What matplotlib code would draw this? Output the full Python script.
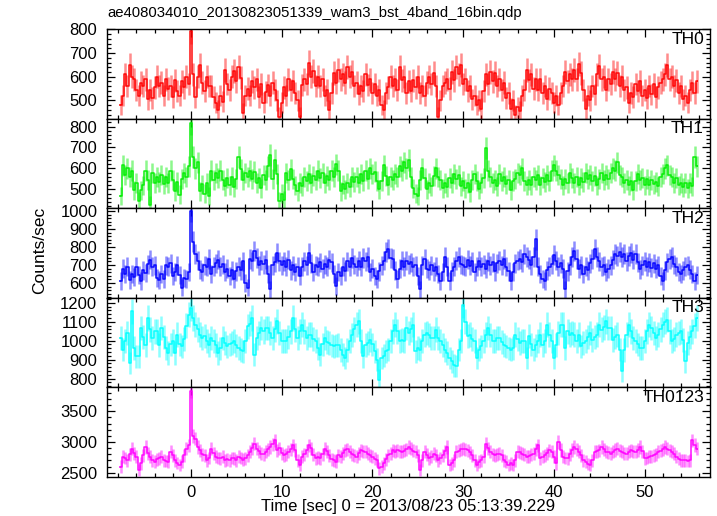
import numpy as np
import matplotlib
matplotlib.use("Agg")
import matplotlib.pyplot as plt
from matplotlib.ticker import MultipleLocator

plt.rcParams['font.family'] = ['Liberation Sans', 'DejaVu Sans']

# ---------------- data ----------------
title = "ae408034010_20130823051339_wam3_bst_4band_16bin.qdp"
xlabel = "Time [sec] 0 = 2013/08/23 05:13:39.229"
ylabel = "Counts/sec"
t_first = -7.75      # centre of first bin [s]
bin_width = 0.25     # [s]

panel_names = ["TH0", "TH1", "TH2", "TH3", "TH0123"]

th0 = [
    480, 520, 610, 560, 650, 600, 590, 545,
    520, 575, 560, 590, 505, 545, 510, 555,
    600, 560, 575, 520, 590, 550, 560, 515,
    585, 540, 520, 580, 555, 600, 570, 795,
    610, 515, 600, 650, 575, 540, 600, 560,
    560, 515, 490, 460, 520, 495, 630, 570,
    545, 600, 625, 580, 640, 595, 445, 520,
    550, 520, 580, 555, 590, 515, 570, 490,
    535, 565, 520, 575, 545, 500, 430, 490,
    555, 520, 590, 545, 580, 530, 500, 430,
    565, 590, 570, 660, 600, 625, 560, 600,
    560, 590, 520, 545, 460, 530, 615, 575,
    630, 590, 610, 575, 640, 600, 620, 560,
    575, 525, 560, 540, 610, 565, 590, 530,
    570, 520, 545, 480, 460, 530, 555, 600,
    560, 590, 545, 640, 585, 600, 530, 580,
    540, 585, 555, 600, 530, 560, 520, 575,
    600, 570, 615, 560, 430, 500, 560, 575,
    590, 550, 620, 585, 640, 610, 650, 570,
    590, 540, 560, 505, 520, 480, 500, 465,
    540, 610, 570, 620, 580, 615, 560, 590,
    545, 575, 510, 530, 465, 500, 440, 470,
    455, 520, 545, 630, 585, 610, 550, 590,
    545, 590, 530, 560, 505, 550, 530, 490,
    520, 480, 530, 560, 620, 580, 610, 590,
    630, 590, 655, 615, 545, 465, 520, 500,
    560, 525, 610, 645, 590, 600, 545, 590,
    570, 620, 590, 615, 560, 600, 545, 555,
    490, 530, 515, 570, 540, 580, 520, 545,
    510, 560, 525, 570, 515, 555, 575, 590,
    610, 650, 590, 600, 560, 585, 530, 560,
    505, 520, 490, 545, 575, 530, 580,
]

th1 = [
    467, 615, 570, 600, 560, 590, 495, 530,
    445, 495, 520, 590, 545, 427, 580, 530,
    560, 535, 570, 525, 560, 530, 590, 545,
    490, 535, 475, 550, 580, 560, 610, 815,
    655, 600, 630, 490, 525, 480, 530, 470,
    590, 545, 580, 555, 590, 545, 515, 555,
    520, 560, 510, 550, 655, 595, 545, 580,
    560, 590, 550, 585, 530, 555, 505, 570,
    545, 610, 665, 550, 640, 575, 443, 480,
    450, 580, 545, 595, 550, 520, 490, 530,
    515, 560, 540, 575, 530, 565, 545, 590,
    555, 580, 530, 565, 545, 590, 560, 620,
    590, 490, 525, 500, 530, 510, 560, 535,
    560, 530, 575, 540, 590, 550, 600, 575,
    585, 540, 500, 540, 615, 565, 520, 560,
    545, 575, 560, 610, 590, 630, 600, 640,
    560, 505, 480, 470, 545, 600, 555, 500,
    530, 515, 565, 600, 560, 545, 505, 530,
    510, 555, 530, 575, 550, 570, 515, 540,
    505, 530, 485, 545, 575, 540, 500, 530,
    555, 697, 590, 560, 530, 545, 515, 575,
    540, 560, 525, 545, 495, 540, 550, 580,
    570, 600, 540, 520, 545, 520, 560, 545,
    570, 520, 555, 535, 570, 540, 590, 615,
    590, 570, 550, 520, 550, 530, 580, 555,
    530, 560, 520, 555, 535, 580, 550, 570,
    540, 565, 520, 550, 580, 545, 570, 550,
    580, 600, 590, 630, 570, 560, 530, 545,
    520, 540, 495, 540, 575, 545, 555, 520,
    550, 520, 545, 525, 535, 515, 560, 575,
    600, 615, 570, 560, 530, 555, 520, 530,
    510, 530, 505, 530, 515, 655, 610,
]

th2 = [
    611, 680, 650, 690, 615, 650, 635, 690,
    645, 610, 670, 655, 705, 730, 690, 700,
    630, 615, 650, 625, 700, 690, 710, 640,
    660, 700, 645, 574, 630, 620, 660, 1000,
    830, 760, 725, 675, 660, 700, 690, 735,
    650, 690, 710, 730, 690, 705, 660, 680,
    640, 670, 625, 665, 690, 670, 720, 600,
    574, 735, 720, 780, 740, 700, 725, 705,
    730, 650, 565, 700, 715, 765, 720, 700,
    720, 690, 730, 670, 700, 660, 690, 640,
    690, 720, 700, 765, 710, 660, 700, 690,
    715, 680, 705, 690, 730, 715, 650, 583,
    660, 640, 690, 665, 720, 690, 740, 705,
    690, 725, 690, 740, 720, 745, 660, 680,
    640, 620, 665, 700, 725, 770, 787, 740,
    735, 670, 620, 680, 725, 690, 725, 705,
    715, 690, 700, 640, 565, 700, 735, 680,
    670, 700, 665, 690, 650, 611, 660, 745,
    690, 611, 665, 690, 725, 745, 705, 700,
    690, 730, 695, 720, 660, 690, 725, 690,
    705, 680, 720, 700, 715, 665, 710, 725,
    700, 735, 690, 665, 611, 660, 710, 725,
    735, 715, 760, 745, 730, 700, 745, 843,
    690, 650, 625, 611, 670, 690, 705, 755,
    725, 690, 710, 680, 565, 665, 700, 745,
    778, 735, 680, 700, 650, 690, 670, 710,
    735, 787, 745, 720, 690, 700, 660, 680,
    700, 730, 760, 750, 770, 745, 760, 720,
    750, 765, 730, 760, 715, 676, 700, 720,
    690, 715, 685, 710, 680, 700, 640, 611,
    670, 715, 735, 745, 705, 690, 660, 650,
    670, 690, 700, 675, 650, 611, 645,
]

th3 = [
    1014, 953, 1000, 1040, 882, 1154, 961, 918,
    918, 1067, 1020, 979, 1119, 1060, 1014, 1049,
    1049, 979, 1067, 1020, 961, 935, 980, 996,
    935, 1032, 980, 970, 1010, 1080, 1137, 1172,
    1120, 1084, 1060, 1032, 1014, 1023, 1000, 979,
    1014, 1000, 979, 935, 960, 1014, 990, 970,
    980, 990, 996, 975, 961, 950, 944, 1000,
    1075, 1090, 1119, 926, 1014, 1040, 1067, 1050,
    1067, 1067, 1040, 1014, 1060, 1102, 1040, 996,
    1000, 996, 1020, 1049, 1119, 1060, 1014, 1050,
    1084, 1050, 1014, 1032, 1032, 1010, 996, 960,
    926, 980, 1014, 995, 988, 975, 970, 975,
    979, 950, 926, 909, 950, 996, 1030, 1060,
    1084, 1102, 1000, 918, 979, 990, 1005, 980,
    944, 900, 795, 909, 920, 944, 953, 1000,
    1050, 1084, 1049, 996, 1005, 996, 1067, 1040,
    1060, 1084, 944, 961, 953, 1000, 1032, 1040,
    1030, 1014, 1014, 1058, 1014, 1000, 979, 950,
    935, 909, 891, 870, 865, 953, 1000, 1189,
    1100, 1023, 1032, 1010, 996, 909, 953, 970,
    996, 1032, 1067, 1030, 996, 996, 1014, 1014,
    995, 979, 970, 960, 953, 961, 1032, 1010,
    988, 996, 996, 909, 1023, 980, 953, 975,
    996, 1032, 979, 1000, 1084, 1032, 1000, 909,
    979, 1040, 1084, 1084, 961, 1049, 1032, 1040,
    1032, 996, 1032, 970, 990, 996, 1020, 1040,
    1005, 1020, 1032, 1084, 1058, 1070, 1102, 1067,
    1067, 1005, 1020, 1032, 953, 839, 950, 1032,
    1084, 1050, 1014, 996, 980, 961, 961, 1000,
    1049, 1084, 1067, 1040, 1014, 1032, 1060, 1084,
    1100, 1110, 1049, 996, 1010, 1032, 1040, 1049,
    1005, 891, 988, 1020, 1049, 1080, 1119,
]

th0123 = [
    2597, 2758, 2740, 2704, 2800, 2892, 2820, 2758,
    2543, 2650, 2780, 2919, 2820, 2758, 2700, 2677,
    2720, 2731, 2760, 2704, 2690, 2677, 2839, 2780,
    2704, 2660, 2624, 2677, 2780, 2892, 2946, 3833,
    3100, 3054, 2919, 2866, 2800, 2785, 2704, 2740,
    2892, 2820, 2758, 2740, 2731, 2760, 2704, 2720,
    2704, 2740, 2731, 2700, 2758, 2740, 2710, 2731,
    2780, 2839, 2900, 2973, 2892, 2850, 2812, 2800,
    2839, 2880, 2919, 2960, 3027, 2866, 2900, 2820,
    2785, 2800, 2839, 2880, 2946, 2870, 2700, 2624,
    2758, 2800, 2866, 2946, 2900, 2790, 2731, 2750,
    2731, 2800, 2892, 2850, 2785, 2720, 2700, 2677,
    2785, 2760, 2820, 2866, 2880, 2839, 2800, 2780,
    2758, 2820, 2866, 2850, 2839, 2810, 2785, 2760,
    2730, 2704, 2570, 2600, 2650, 2720, 2780, 2812,
    2866, 2840, 2866, 2850, 2839, 2860, 2880, 2919,
    2892, 2860, 2839, 2785, 2543, 2700, 2839, 2790,
    2731, 2760, 2812, 2780, 2704, 2740, 2785, 2850,
    2919, 2624, 2650, 2700, 2839, 2860, 2880, 2892,
    2880, 2866, 2830, 2785, 2700, 2624, 2680, 2704,
    2760, 2973, 2900, 2839, 2800, 2785, 2800, 2812,
    2780, 2704, 2680, 2624, 2650, 2624, 2700, 2839,
    2830, 2812, 2790, 2758, 2770, 2790, 2812, 2880,
    2946, 2731, 2760, 2785, 2820, 2866, 2840, 2760,
    2650, 3000, 2870, 2758, 2740, 2731, 2800, 2870,
    2919, 2880, 2839, 2780, 2704, 2680, 2640, 2624,
    2700, 2839, 2850, 2866, 2919, 2880, 2839, 2830,
    2812, 2840, 2870, 2892, 2860, 2839, 2820, 2812,
    2840, 2866, 2850, 2839, 2870, 2919, 2850, 2731,
    2740, 2758, 2770, 2785, 2800, 2839, 2860, 2880,
    2919, 2890, 2866, 2840, 2812, 2760, 2730, 2704,
    2700, 2704, 2690, 2704, 3027, 2950, 2892,
]

series = [th0, th1, th2, th3, th0123]
colors = ["#ff0000", "#00ee00", "#0000ff", "#00ffff", "#ff00ff"]
ylims = [(423, 802), (410, 838), (518, 1016), (754, 1226), (2429, 3890)]
ymajor = [100, 100, 100, 100, 500]
yminor = [20, 20, 20, 20, 100]
xlim = (-9.25, 57.2)

# ---------------- figure ----------------
fig = plt.figure(figsize=(7.17, 5.16), dpi=100)
left, right = 107 / 717, 710 / 717
top, bottom = 1 - 29 / 516, 1 - 477 / 516
h = (top - bottom) / 5

for i, (vals, col) in enumerate(zip(series, colors)):
    ax = fig.add_axes([left, top - (i + 1) * h, right - left, h])
    v = np.asarray(vals, dtype=float)
    t = t_first + bin_width * np.arange(len(v))
    err = np.sqrt(v / bin_width)
    ax.vlines(t, v - err, v + err, colors=col, linewidth=1.8, alpha=0.45,
              zorder=2)
    ax.step(t, v, where='mid', color=col, linewidth=1.1, alpha=0.95,
            zorder=3)
    ax.hlines([v[0], v[-1]], [t[0] - bin_width / 2, t[-1]],
              [t[0], t[-1] + bin_width / 2], colors=col, linewidth=1.1,
              alpha=0.95, zorder=3)
    ax.set_xlim(*xlim)
    ax.set_ylim(*ylims[i])
    ax.xaxis.set_major_locator(MultipleLocator(10))
    ax.xaxis.set_minor_locator(MultipleLocator(2))
    ax.yaxis.set_major_locator(MultipleLocator(ymajor[i]))
    ax.yaxis.set_minor_locator(MultipleLocator(yminor[i]))
    ax.tick_params(which='both', direction='in', top=True, right=True,
                   labelsize=12, width=0.9, color='black')
    ax.tick_params(which='major', length=6)
    ax.tick_params(which='minor', length=3)
    ax.tick_params(axis='y', pad=7)
    for s in ax.spines.values():
        s.set_linewidth(1.0)
        s.set_zorder(5)
    if i < 4:
        ax.tick_params(labelbottom=False)
    else:
        ax.tick_params(axis='x', pad=6)
    ax.text(0.99, 0.97, panel_names[i], transform=ax.transAxes, ha='right',
            va='top', fontsize=12.5)

fig.text(left, 1 - 13 / 516, title, ha='left', va='center', fontsize=10.7)
fig.text((left + right) / 2, 1 - 507 / 516, xlabel, ha='center',
         va='center', fontsize=12)
fig.text(40 / 717, 1 - 250 / 516, ylabel, rotation=90, ha='center',
         va='center', fontsize=12.5)

fig.savefig("out.png", dpi=100)
